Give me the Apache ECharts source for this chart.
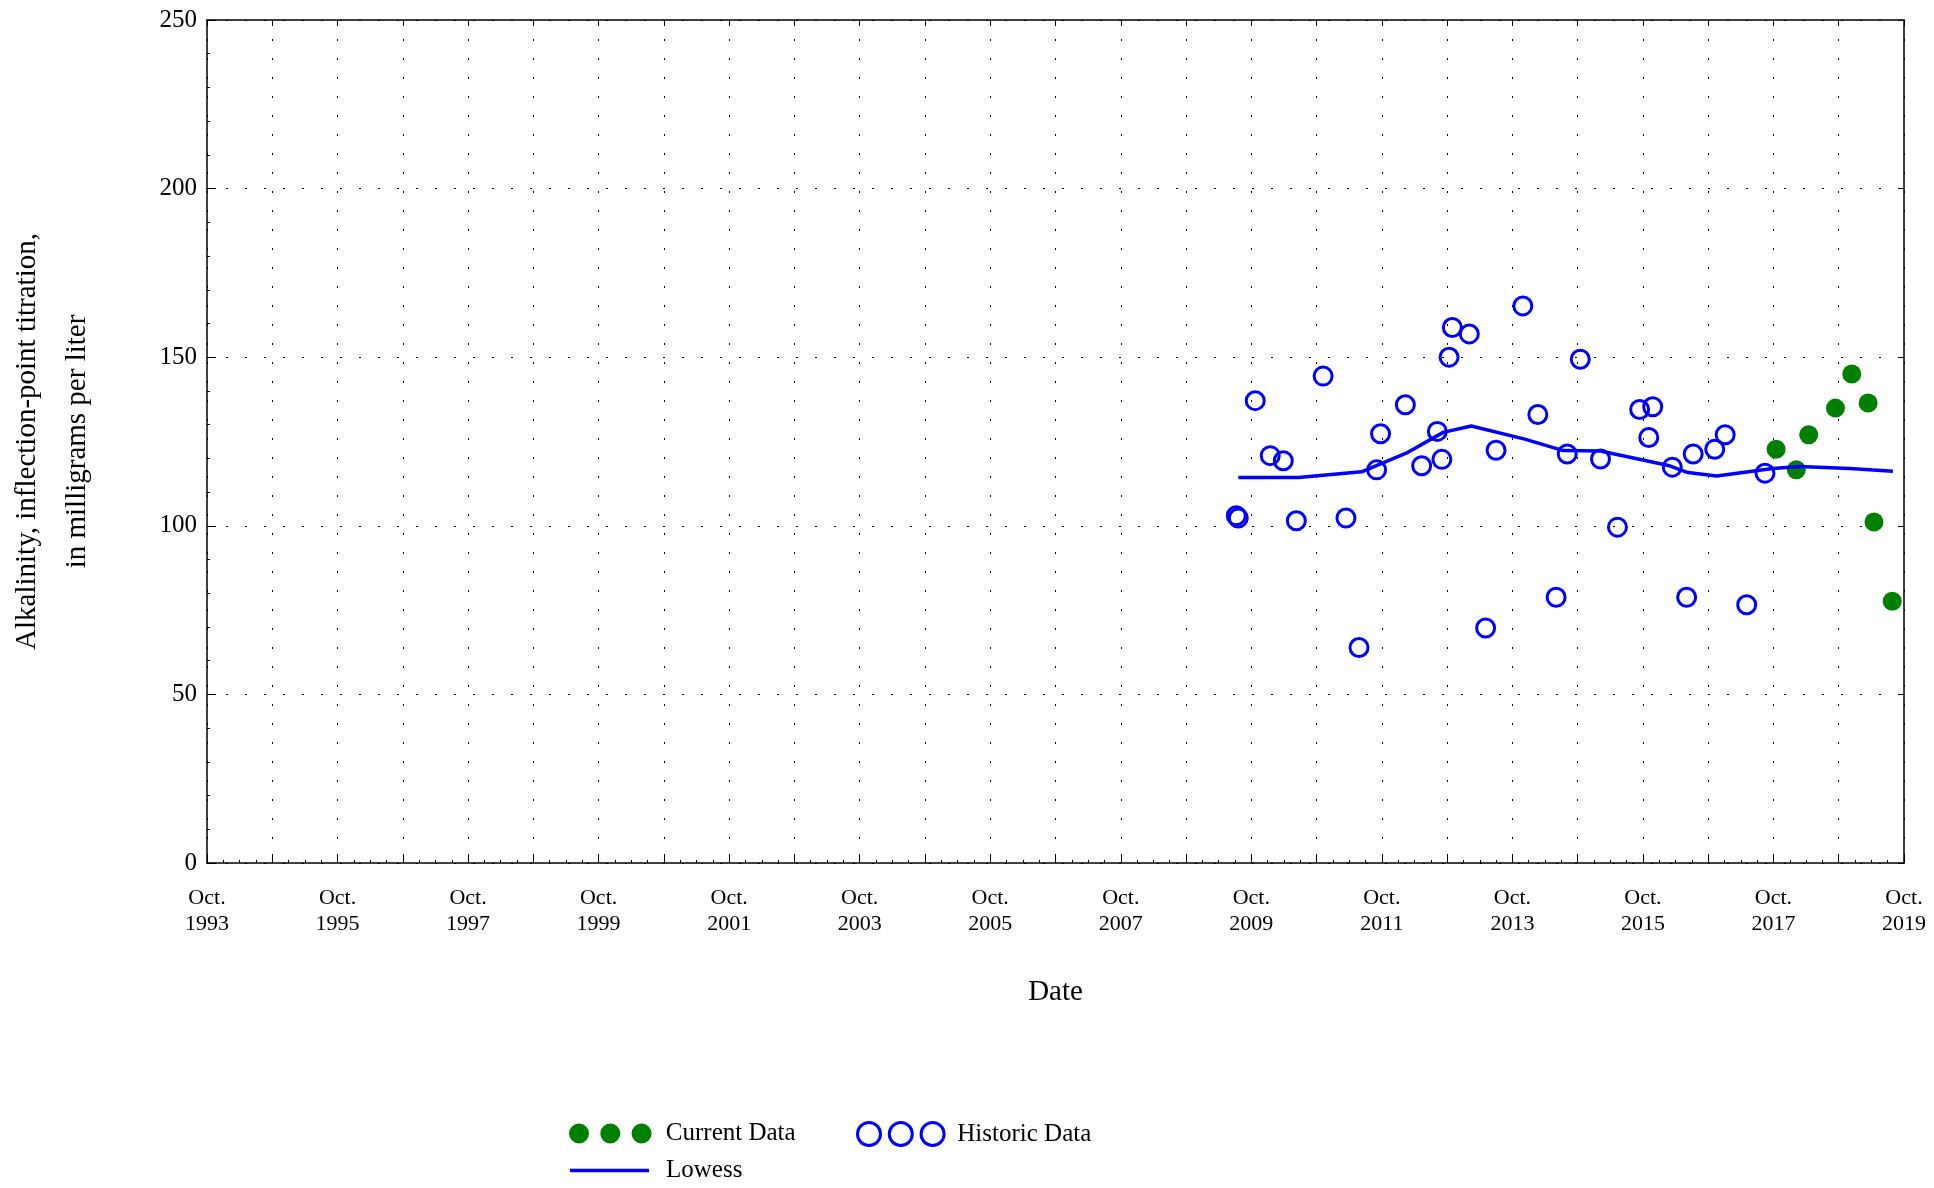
<!DOCTYPE html>
<html>
<head>
<meta charset="utf-8">
<script src="https://cdn.jsdelivr.net/npm/echarts@6/dist/echarts.min.js"></script>
<style>
html,body{margin:0;padding:0;background:#fff;}
#chart{width:1934px;height:1188px;}
</style>
</head>
<body>
<div id="chart"></div>
<script>
// ---- data (dates as decimal years) ----
const historicDates = [2009.52, 2009.55, 2009.81, 2010.04, 2010.24, 2010.44, 2010.85, 2011.20, 2011.40, 2011.67,
  2011.73, 2012.11, 2012.36, 2012.60, 2012.67, 2012.78, 2012.83, 2013.09, 2013.34, 2013.50,
  2013.91, 2014.14, 2014.42, 2014.59, 2014.79, 2015.10, 2015.36, 2015.70, 2015.84, 2015.90,
  2016.20, 2016.42, 2016.52, 2016.85, 2017.01, 2017.34, 2017.62];
const historicValues = [103.0, 102.3, 137.1, 120.8, 119.3, 101.5, 144.4, 102.3, 63.9, 116.6,
  127.3, 135.9, 117.8, 128.0, 119.7, 150.0, 158.8, 156.9, 69.7, 122.4,
  165.2, 133.0, 78.8, 121.3, 149.4, 119.8, 99.6, 134.5, 126.2, 135.3,
  117.4, 78.8, 121.3, 122.7, 127.0, 76.6, 115.6];

const currentDates = [2017.79, 2018.10, 2018.29, 2018.70, 2018.95, 2019.20, 2019.29, 2019.57];
const currentValues = [122.7, 116.6, 127.0, 134.9, 145.0, 136.4, 101.1, 77.6];

const lowessDates = [2009.55, 2010.47, 2011.44, 2012.15, 2012.69, 2013.12, 2013.94, 2014.53,
  2015.10, 2016.16, 2016.44, 2016.88, 2017.74, 2018.15, 2018.92, 2019.58];
const lowessValues = [114.3, 114.3, 116.0, 121.8, 127.7, 129.6, 125.7, 122.3,
  122.2, 117.8, 115.8, 114.8, 117.0, 117.6, 117.0, 116.2];

// axis: years counted from Oct. 1993
const AXIS_START = 1993.75;
const AXIS_YEARS = 26;
const yTicks = [0, 50, 100, 150, 200, 250];

const FONT = "'Liberation Serif', 'DejaVu Serif', serif";
const toXY = (ds, vs) => ds.map((d, i) => [+(d - AXIS_START).toFixed(4), vs[i]]);

const GREEN_ICON = 'path://M0,10a10,10 0 1,0 20,0a10,10 0 1,0 -20,0zM31.3,10a10,10 0 1,0 20,0a10,10 0 1,0 -20,0zM62.6,10a10,10 0 1,0 20,0a10,10 0 1,0 -20,0z';
const BLUE_ICON = 'path://M0,11.5a11.5,11.5 0 1,0 23,0a11.5,11.5 0 1,0 -23,0zM31.8,11.5a11.5,11.5 0 1,0 23,0a11.5,11.5 0 1,0 -23,0zM63.6,11.5a11.5,11.5 0 1,0 23,0a11.5,11.5 0 1,0 -23,0z';

const gridDots = { color: '#000', width: 1, type: [2, 17] };

const chart = echarts.init(document.getElementById('chart'), null, { renderer: 'canvas' });
chart.setOption({
  backgroundColor: '#fff',
  animation: false,
  textStyle: { fontFamily: FONT },
  grid: { left: 207, right: 30, top: 20, bottom: 325, containLabel: false, outerBoundsMode: 'none' },
  legend: [
    {
      data: [{ name: 'Current Data', icon: GREEN_ICON }],
      left: 569, top: 1121, padding: 0, itemWidth: 83, itemHeight: 20, selectedMode: false,
      itemStyle: { color: '#008000', opacity: 1 },
      textStyle: { fontFamily: FONT, fontSize: 25, color: '#000', padding: [0, 0, 0, 9] }
    },
    {
      data: [{ name: 'Historic Data', icon: BLUE_ICON }],
      left: 856, top: 1121, padding: 0, itemWidth: 87, itemHeight: 23, selectedMode: false,
      itemStyle: { color: 'rgba(0,0,0,0)', borderColor: '#0000ff', borderWidth: 3, opacity: 1 },
      textStyle: { fontFamily: FONT, fontSize: 25, color: '#000', padding: [0, 0, 0, 8] }
    },
    {
      data: [{ name: 'Lowess', icon: 'rect' }],
      left: 570, top: 1158, padding: 0, itemWidth: 79, itemHeight: 3.5, selectedMode: false,
      itemStyle: { color: '#0000ff', borderWidth: 0, opacity: 1 },
      textStyle: { fontFamily: FONT, fontSize: 25, color: '#000', padding: [0, 0, 0, 12] }
    }
  ],
  xAxis: [
    {
      type: 'value', min: 0, max: AXIS_YEARS, interval: 1,
      name: 'Date', nameLocation: 'middle', nameGap: 115,
      nameTextStyle: { fontFamily: FONT, fontSize: 29, color: '#000' },
      axisLine: { show: true, onZero: false, lineStyle: { color: '#000', width: 1.5 } },
      axisTick: { show: true, inside: true, length: 9, lineStyle: { color: '#000' } },
      minorTick: { show: true, splitNumber: 4, length: 3, lineStyle: { color: '#000' } },
      splitLine: { show: true, lineStyle: gridDots },
      axisLabel: {
        fontFamily: FONT, fontSize: 22, color: '#000', lineHeight: 26, margin: 22,
        formatter: v => (Math.round(v) % 2 === 0 ? 'Oct.\n' + (Math.floor(AXIS_START) + Math.round(v)) : '')
      }
    },
    {
      type: 'value', min: 0, max: AXIS_YEARS, interval: 1, position: 'top',
      axisLine: { show: true, onZero: false, lineStyle: { color: '#000', width: 1.5 } },
      axisTick: { show: true, inside: true, length: 6, lineStyle: { color: '#000' } },
      axisLabel: { show: false }, splitLine: { show: false }
    }
  ],
  yAxis: [
    {
      type: 'value', min: yTicks[0], max: yTicks[yTicks.length - 1], interval: 50,
      name: 'Alkalinity, inflection-point titration,\nin milligrams per liter',
      nameLocation: 'middle', nameRotate: 90, nameGap: 105,
      nameTextStyle: { fontFamily: FONT, fontSize: 29, color: '#000', lineHeight: 50 },
      axisLine: { show: true, onZero: false, lineStyle: { color: '#000', width: 1.5 } },
      axisTick: { show: true, inside: true, length: 9, lineStyle: { color: '#000' } },
      minorTick: { show: true, splitNumber: 5, length: 3, lineStyle: { color: '#000' } },
      splitLine: { show: true, lineStyle: gridDots },
      axisLabel: { fontFamily: FONT, fontSize: 25, color: '#000', margin: 10 }
    },
    {
      type: 'value', min: yTicks[0], max: yTicks[yTicks.length - 1], interval: 50, position: 'right',
      axisLine: { show: true, onZero: false, lineStyle: { color: '#000', width: 1.5 } },
      axisTick: { show: true, inside: true, length: 6, lineStyle: { color: '#000' } },
      axisLabel: { show: false }, splitLine: { show: false }
    }
  ],
  series: [
    {
      name: 'Historic Data', type: 'scatter', symbol: 'circle', symbolSize: 18,
      itemStyle: { color: 'rgba(0,0,0,0)', borderColor: '#0000ff', borderWidth: 3, opacity: 1 },
      data: toXY(historicDates, historicValues), z: 3
    },
    {
      name: 'Current Data', type: 'scatter', symbol: 'circle', symbolSize: 19,
      itemStyle: { color: '#008000', opacity: 1 },
      data: toXY(currentDates, currentValues), z: 3
    },
    {
      name: 'Lowess', type: 'line', showSymbol: false, symbol: 'none', color: '#0000ff',
      lineStyle: { color: '#0000ff', width: 3.5 },
      data: toXY(lowessDates, lowessValues), z: 4
    }
  ]
});
</script>
</body>
</html>
